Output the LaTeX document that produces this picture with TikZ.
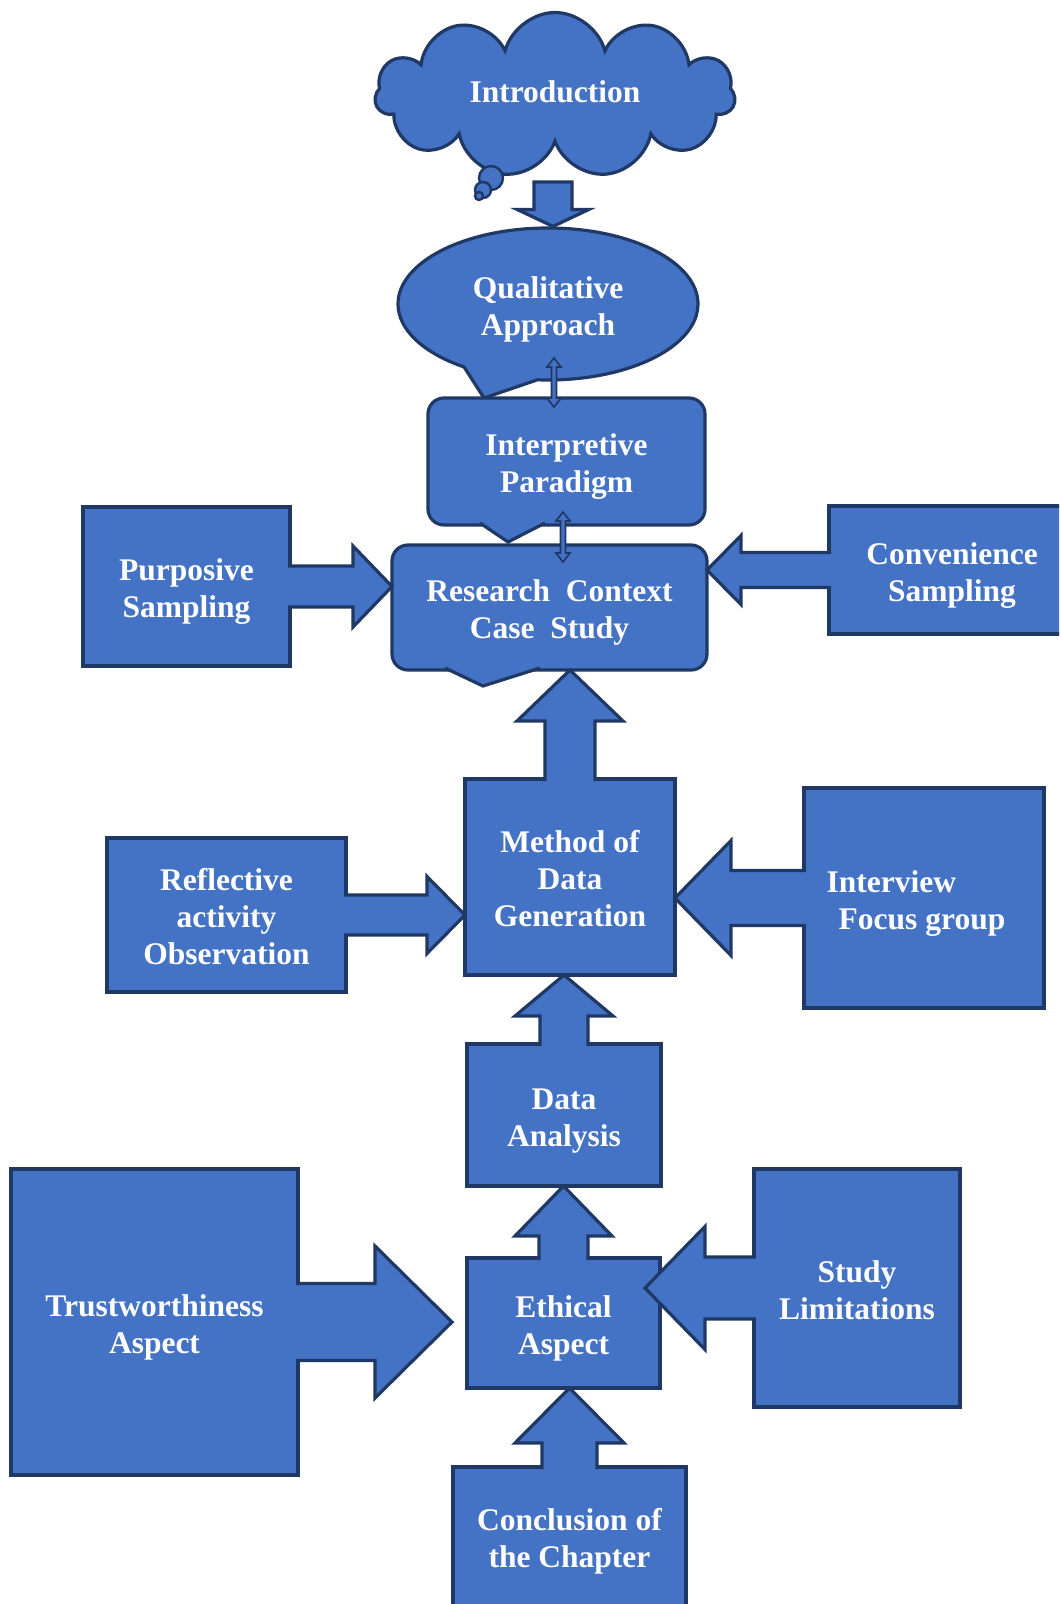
\documentclass[tikz,border=0pt]{standalone}
\usepackage{fontspec}
\setmainfont{Liberation Serif}
\usetikzlibrary{calc,shapes.symbols,shapes.callouts,shapes.geometric}
\definecolor{boxblue}{HTML}{4472C4}
\definecolor{boxline}{HTML}{1F3864}
\newcommand\lift{\rule{0pt}{32bp}}

% block arrows growing out of a box: source, target, shaft, head, head length, shift of tip
\newcommand\arrowright[6]{%
  \coordinate (arrowtip) at ($(#1.east -| #2.west)+(#6,0)$);
  \filldraw[blockarrow] ($(#1.east)+(-2,-#3)$) -- ($(arrowtip)+(-#5,-#3)$) -- ($(arrowtip)+(-#5,-#4)$) -- (arrowtip)
    -- ($(arrowtip)+(-#5,#4)$) -- ($(arrowtip)+(-#5,#3)$) -- ($(#1.east)+(-2,#3)$);}
\newcommand\arrowleft[6]{%
  \coordinate (arrowtip) at ($(#1.west -| #2.east)+(#6,0)$);
  \filldraw[blockarrow] ($(#1.west)+(2,-#3)$) -- ($(arrowtip)+(#5,-#3)$) -- ($(arrowtip)+(#5,-#4)$) -- (arrowtip)
    -- ($(arrowtip)+(#5,#4)$) -- ($(arrowtip)+(#5,#3)$) -- ($(#1.west)+(2,#3)$);}
\newcommand\arrowup[6]{%
  \coordinate (arrowtip) at ($(#1.north |- #2.south)+(0,#6)$);
  \filldraw[blockarrow] ($(#1.north)+(-#3,2)$) -- ($(arrowtip)+(-#3,#5)$) -- ($(arrowtip)+(-#4,#5)$) -- (arrowtip)
    -- ($(arrowtip)+(#4,#5)$) -- ($(arrowtip)+(#3,#5)$) -- ($(#1.north)+(#3,2)$);}
\newcommand\arrowupdown[2]{%
  \filldraw[thinarrow] (#1) -- ($(#1)+(7,9)$) -- ($(#1)+(2.5,9)$) -- ($(#2)+(2.5,-9)$) -- ($(#2)+(7,-9)$) -- (#2)
    -- ($(#2)+(-7,-9)$) -- ($(#2)+(-2.5,-9)$) -- ($(#1)+(-2.5,9)$) -- ($(#1)+(-7,9)$) -- cycle;}

\begin{document}
\begin{tikzpicture}[x=1bp,y=-1bp]
\tikzset{every node/.style={font=\bfseries\fontsize{31.5bp}{37bp}\selectfont,text=white,align=center,
  execute at end node={\rule[-7bp]{0pt}{7bp}}}}
\tikzset{plainbox/.style 2 args={rectangle,draw=boxline,fill=boxblue,line width=3.2bp,inner sep=0pt,outer sep=0pt,minimum width=#1bp,minimum height=#2bp}}
\tikzset{roundbox/.style 2 args={plainbox={#1}{#2},rounded corners=16bp}}
\tikzset{blockarrow/.style={fill=boxblue,draw=boxline,line width=3.2bp,line join=miter}}
\tikzset{thinarrow/.style={fill=boxblue,draw=boxline,line width=1.6bp,line join=miter}}
\tikzset{bubble/.style={fill=boxblue,draw=boxline,line width=2.4bp}}
\useasboundingbox (0,0) rectangle (1059,1604);
\clip (0,0) rectangle (1059,1604);

\node[cloud,cloud puffs=11,aspect=2.2,draw=boxline,fill=boxblue,line width=3.2bp,inner sep=0pt,
  minimum width=360bp,minimum height=165bp] (intro) at (555,95) {Introduction};
\filldraw[bubble] (491,178) circle[radius=12bp];
\filldraw[bubble] (483,190) circle[radius=8bp];
\filldraw[bubble] (479,196) circle[radius=4bp];

\node[ellipse callout,draw=boxline,fill=boxblue,line width=3.2bp,inner sep=0pt,
  minimum width=300bp,minimum height=152bp,callout absolute pointer={(484,398)},callout pointer arc=30] (qual) at (548,304) {\lift Qualitative\\Approach};
\coordinate (droptip) at ($(qual.north)+(5,0)$);
\coordinate (drop) at ($(droptip |- intro.center)+(0,87)$);
\filldraw[blockarrow] ($(drop)+(-19,0)$) -- ($(droptip)+(-19,-17)$) -- ($(droptip)+(-36,-17)$) -- (droptip)
  -- ($(droptip)+(36,-17)$) -- ($(droptip)+(19,-17)$) -- ($(drop)+(19,0)$) -- cycle;

\node[roundbox={277}{127}] (interp) at (566.5,461.5) {\lift Interpretive\\Paradigm};
\filldraw[blockarrow] ($(interp.south west)+(52,-2)$) -- ($(interp.south west)+(80,17)$) -- ($(interp.south west)+(117,-2)$);
\node[roundbox={315}{125}] (research) at (549.5,607.5) {\lift Research\ \ Context\\Case\ \ Study};
\filldraw[blockarrow] ($(research.south west)+(53,-2)$) -- ($(research.south west)+(91,16)$) -- ($(research.south west)+(148,-2)$);

\node[plainbox={207}{159}] (purp) at (186.5,586.5) {\lift Purposive\\Sampling};
\node[plainbox={246}{128}] (conv) at (952,570) {\lift Convenience\\Sampling};
\node[plainbox={210}{196}] (method) at (570,877) {\lift Method of\\Data\\Generation};
\node[plainbox={239}{154}] (refl) at (226.5,915) {\lift Reflective\\activity\\Observation};
\node[plainbox={240}{220},align=left] (interv) at (924,898) {\lift Interview\\\hspace*{12bp}Focus group\hspace*{16bp}};
\node[plainbox={194}{142}] (data) at (564,1115) {\lift Data\\Analysis};
\node[plainbox={193}{130}] (ethic) at (563.5,1323) {\lift Ethical\\Aspect};
\node[plainbox={287}{306}] (trust) at (154.5,1322) {\lift Trustworthiness\\Aspect};
\node[plainbox={206}{238}] (study) at (857,1288) {\lift Study\\Limitations};
\node[plainbox={233}{148}] (concl) at (569.5,1541) {Conclusion of\\the Chapter};

\arrowright{purp}{research}{20.5}{40.5}{39}{0}
\arrowleft{conv}{research}{17.5}{34.5}{34}{0}
\arrowup{method}{research}{25}{53}{51}{0}
\arrowright{refl}{method}{20}{38.5}{38}{0}
\arrowleft{interv}{method}{27.5}{57.5}{56}{0}
\arrowup{data}{method}{24}{49}{41}{0}
\arrowup{ethic}{data}{24.5}{48.5}{50}{0}
\arrowright{trust}{ethic}{38.5}{76}{77}{-15}
\arrowleft{study}{ethic}{31}{61.5}{60}{-15}
\arrowup{concl}{ethic}{27.5}{54.5}{55}{0}

\coordinate (qa) at (554,358);
\coordinate (qb) at (554,407);
\coordinate (ia) at (563,512);
\coordinate (rb) at (563,562);
\arrowupdown{qa}{qb}
\arrowupdown{ia}{rb}
\end{tikzpicture}
\end{document}
